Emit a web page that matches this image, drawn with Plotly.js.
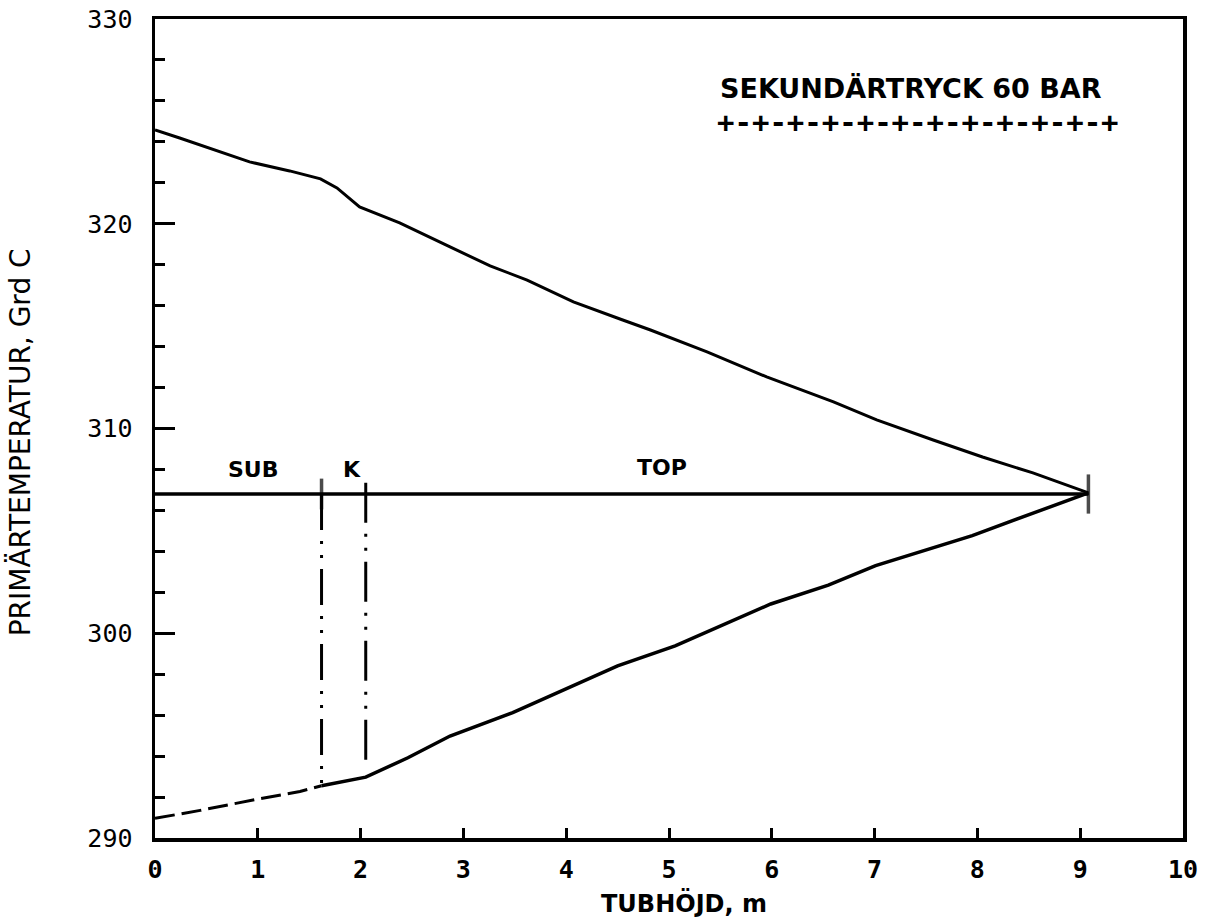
<!DOCTYPE html>
<html>
<head>
<meta charset="utf-8">
<script src="https://cdn.plot.ly/plotly-3.0.1.min.js"></script>
<style>html,body{margin:0;padding:0;background:#fff;}#chart{width:1208px;height:920px;}</style>
</head>
<body>
<div id="chart"></div>
<script>
// Primary temperature (upper curve), TUBHÖJD m vs Grd C
const topX = [0, 0.24, 0.92, 1.31, 1.61, 1.77, 1.99, 2.38, 2.87, 3.26, 3.62, 4.07, 4.55, 4.82, 5.37, 5.95, 6.60, 7.02, 7.57, 8.05, 8.54, 9.08];
const topY = [324.58, 324.19, 323.02, 322.58, 322.19, 321.75, 320.82, 320.04, 318.87, 317.94, 317.25, 316.18, 315.30, 314.81, 313.74, 312.52, 311.30, 310.42, 309.44, 308.61, 307.83, 306.86];

// Lower curve: subcooled part (dashed) and remainder (solid)
const subX = [0, 0.44, 1.02, 1.41, 1.62];
const subY = [290.96, 291.35, 291.92, 292.27, 292.55];
const lowX = [1.62, 2.05, 2.46, 2.87, 3.48, 3.90, 4.13, 4.50, 5.06, 5.43, 5.99, 6.55, 7.01, 7.95, 9.08];
const lowY = [292.55, 292.97, 293.92, 294.98, 296.12, 297.05, 297.55, 298.41, 299.38, 300.20, 301.43, 302.35, 303.30, 304.77, 306.86];

// Secondary saturation level (horizontal line) and region boundaries
const satX = [0, 1.62, 9.08];
const satY = [306.8, 306.8, 306.8];
const bound1X = [1.62, 1.62];
const bound1Y = [306.8, 292.55];
const bound2X = [2.05, 2.05];
const bound2Y = [307.35, 293.7];

const regionLabels = ["SUB", "K", "TOP"];
const regionLabelX = [0.95, 1.92, 4.93];
const regionLabelY = [307.98, 307.98, 308.1];

const yTickVals = [290, 300, 310, 320, 330];
const xTickVals = [0, 1, 2, 3, 4, 5, 6, 7, 8, 9, 10];

const legendText = "SEKUNDÄRTRYCK 60 BAR";
const legendSample = "+-+-+-+-+-+-+-+-+-+-+-+";

const black = "#000000";
const mono = "DejaVu Sans Mono, monospace";
const sans = "DejaVu Sans, sans-serif";

const traces = [
  {x: topX, y: topY, mode: "lines", line: {color: black, width: 3}, showlegend: false, hoverinfo: "skip"},
  {x: subX, y: subY, mode: "lines", line: {color: black, width: 3, dash: "20px,7px"}, showlegend: false, hoverinfo: "skip"},
  {x: lowX, y: lowY, mode: "lines", line: {color: black, width: 3.5}, showlegend: false, hoverinfo: "skip"},
  {x: satX, y: satY, mode: "lines+markers", line: {color: black, width: 3.5},
   marker: {symbol: "line-ns", size: [0, 22, 28], color: black, line: {color: black, width: 3.5}},
   showlegend: false, hoverinfo: "skip"},
  {x: bound1X, y: bound1Y, mode: "lines", line: {color: black, width: 3, dash: "36px,11px,3px,11px,3px,11px"}, showlegend: false, hoverinfo: "skip"},
  {x: bound2X, y: bound2Y, mode: "lines", line: {color: black, width: 3, dash: "40px,11px,3px,11px,3px,11px"}, showlegend: false, hoverinfo: "skip"}
];

const annotations = regionLabels.map((t, i) => ({
  x: regionLabelX[i], y: regionLabelY[i], xref: "x", yref: "y", text: t, showarrow: false,
  font: {family: sans, size: 22, color: black, weight: "bold"}, xanchor: "center", yanchor: "middle"
}));
annotations.push({
  x: 7.35, y: 326.63, xref: "x", yref: "y", text: legendText, showarrow: false,
  font: {family: sans, size: 27, color: black, weight: "bold"}, xanchor: "center", yanchor: "middle"
});
annotations.push({
  x: 7.42, y: 324.97, xref: "x", yref: "y", text: legendSample, showarrow: false,
  font: {family: mono, size: 29, color: black, weight: "bold"}, xanchor: "center", yanchor: "middle"
});
annotations.push({
  x: -0.131, y: 0.4835, xref: "paper", yref: "paper", text: "PRIMÄRTEMPERATUR, Grd C", showarrow: false,
  textangle: -90, font: {family: sans, size: 28, color: black}, xanchor: "center", yanchor: "middle"
});
annotations.push({
  x: 0.5146, y: -0.0795, xref: "paper", yref: "paper", text: "TUBHÖJD, m", showarrow: false,
  font: {family: sans, size: 24, color: black, weight: "bold"}, xanchor: "center", yanchor: "middle"
});

const layout = {
  width: 1208, height: 920,
  margin: {l: 155, r: 25, t: 19, b: 82},
  paper_bgcolor: "#ffffff", plot_bgcolor: "#ffffff",
  showlegend: false,
  xaxis: {
    range: [0, 10], tickvals: xTickVals, ticktext: xTickVals.map(String),
    ticks: "inside", ticklen: 10, tickwidth: 3, tickcolor: black,
    showline: true, linewidth: 3.5, linecolor: black, mirror: true,
    showgrid: false, zeroline: false, ticklabelstandoff: 6,
    tickfont: {family: mono, size: 25, color: black, weight: "bold"}
  },
  xaxis2: {
    range: [0, 10], overlaying: "x", side: "bottom", tickvals: [5], ticks: "inside", ticklen: 20,
    tickwidth: 3, tickcolor: black, showticklabels: false, showgrid: false, zeroline: false, showline: false
  },
  yaxis: {
    range: [290, 330], tickvals: yTickVals, ticktext: yTickVals.map(String),
    ticks: "inside", ticklen: 20, tickwidth: 3, tickcolor: black,
    minor: {dtick: 2, ticks: "inside", ticklen: 10, tickwidth: 3, tickcolor: black, showgrid: false},
    showline: true, linewidth: 3.5, linecolor: black, mirror: true,
    showgrid: false, zeroline: false, ticklabelstandoff: 14,
    tickfont: {family: mono, size: 25, color: black}
  },
  annotations: annotations
};

Plotly.newPlot("chart", traces, layout, {staticPlot: true, displayModeBar: false});
</script>
</body>
</html>
